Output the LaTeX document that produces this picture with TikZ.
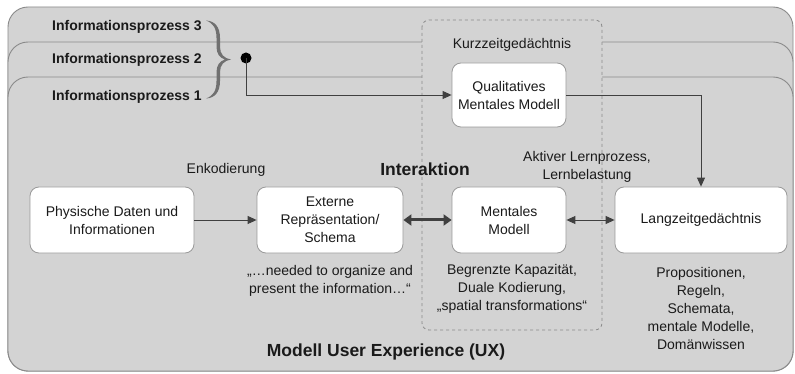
\documentclass[tikz,border=0pt]{standalone}
\usepackage{fontspec}
\setmainfont{Liberation Sans}
\usetikzlibrary{arrows.meta}
\definecolor{panelfill}{HTML}{D3D3D3}
\definecolor{panelline}{HTML}{8A8A8A}
\definecolor{boxline}{HTML}{9A9A9A}
\definecolor{txt}{HTML}{1A1A1A}
\definecolor{arr}{HTML}{404040}
\definecolor{bracecol}{HTML}{707070}
\tikzset{
  panel/.style={draw=panelline, fill=panelfill, line width=0.9pt, rounded corners=20pt},
  box/.style={draw=boxline, fill=white, line width=0.8pt, rounded corners=9pt, align=center,
    font=\fontsize{14}{18}\selectfont, text=txt, inner sep=0pt},
  lbl/.style={align=center, font=\fontsize{14}{18}\selectfont, text=txt, inner sep=0pt},
  blbl/.style={font=\fontsize{14}{18}\selectfont\bfseries, text=txt, inner sep=0pt},
  big/.style={font=\fontsize{17.5}{21}\selectfont\bfseries, text=txt, inner sep=0pt},
  con/.style={draw=arr, line width=0.9pt},
  tip/.style={-{Triangle[length=9pt,width=8pt]}},
}
\begin{document}
\begin{tikzpicture}[x=1pt,y=-1pt]
\useasboundingbox (0,0) rectangle (795,374);
\fill[white] (0,0) rectangle (795,374);
% stacked panels
\draw[panel] (8,7) rectangle (793,371);
\draw[panel] (8,42) rectangle (793,371);
\draw[panel] (8,77) rectangle (793,371);
% short-term memory dashed region
\draw[draw=panelline, fill=panelfill, dashed, line width=0.8pt, rounded corners=7pt] (422,20) rectangle (602,330);
% labels of processes
\node[blbl, anchor=west] (ip3) at (52,27) {Informationsprozess 3};
\node[blbl, anchor=west] (ip2) at (52,60) {Informationsprozess 2};
\node[blbl, anchor=west] (ip1) at (52,97) {Informationsprozess 1};
% curly brace (thin ends, thick middle)
\fill[bracecol] (206,20.5) .. controls (215,21) and (220,27) .. (220,38)
  -- (220,47) .. controls (220,54) and (224,58.5) .. (231,59.5)
  .. controls (224,60.5) and (220,65) .. (220,72)
  -- (220,81) .. controls (220,92) and (215,98) .. (206,98.5)
  .. controls (213,96) and (216.5,91) .. (216.5,81)
  -- (216.5,72) .. controls (216.5,65) and (220,61) .. (225,59.5)
  .. controls (220,58) and (216.5,54) .. (216.5,47)
  -- (216.5,38) .. controls (216.5,28) and (213,23) .. (206,20.5) -- cycle;
\node[circle, fill=black, inner sep=0pt, minimum size=11pt] (dot) at (246,58) {};
% texts
\node[lbl] (kzg) at (512,45) {Kurzzeitgedächtnis};
\node[lbl] (enk) at (226,170) {Enkodierung};
\node[big] (inter) at (425,169) {Interaktion};
\node[lbl] (akt) at (587,167) {Aktiver Lernprozess,\\Lernbelastung};
\node[lbl] (quote) at (330,281) {„…needed to organize and\\present the information…“};
\node[lbl] (begr) at (512,289) {Begrenzte Kapazität,\\Duale Kodierung,\\„spatial transformations“};
\node[lbl] (prop) at (701,308) {Propositionen,\\Regeln,\\Schemata,\\mentale Modelle,\\Domänwissen};
\node[big] (ux) at (386,352) {Modell User Experience (UX)};
% boxes
\node[box, minimum width=114pt, minimum height=64pt] (qual) at (509,95) {Qualitatives\\Mentales Modell};
\node[box, minimum width=164pt, minimum height=66pt] (phys) at (112,220) {Physische Daten und\\Informationen};
\node[box, minimum width=146pt, minimum height=66pt] (ext) at (330,220) {Externe\\Repräsentation/\\Schema};
\node[box, minimum width=114pt, minimum height=66pt] (ment) at (509,220) {Mentales\\Modell};
\node[box, minimum width=172pt, minimum height=66pt] (lang) at (701,220) {Langzeitgedächtnis};
% connectors
\draw[con, tip] (dot.center) |- (qual.west);
\draw[con, tip] (qual.east) -| (lang.north);
\draw[con, tip] (phys) -- (ext);
\draw[draw=arr, line width=3pt, {Triangle[length=8pt,width=11pt]}-{Triangle[length=8pt,width=11pt]}] (ext) -- (ment);
\draw[con, {Triangle[length=9pt,width=8pt]}-{Triangle[length=9pt,width=8pt]}] (ment) -- (lang);
\end{tikzpicture}
\end{document}
